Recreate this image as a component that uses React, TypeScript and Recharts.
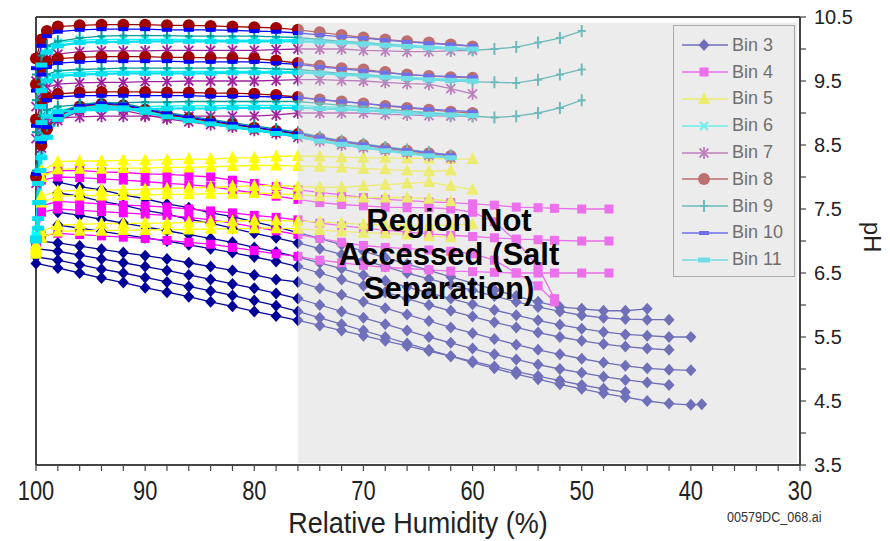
import React from "react";
import { LineChart, Line, XAxis, YAxis, ReferenceArea, ReferenceLine } from "recharts";

// x grids (relative humidity, %)
const rhBin3 = [100, 98, 96, 94, 92, 90, 88, 86, 84, 82, 80, 78, 76, 74, 72, 70, 68, 66, 64, 62, 60, 58, 56, 54, 52, 50, 48, 46, 44, 42, 40, 39];
const rhBin4 = [100, 99.5, 98, 96, 94, 92, 90, 88, 86, 84, 82, 80, 78, 76, 74, 72, 70, 68, 66, 64, 62, 60, 58, 56, 54, 52.5, 50, 47.5];
const rhBin5 = [100, 99.5, 98, 96, 94, 92, 90, 88, 86, 84, 82, 80, 78, 76, 74, 72, 70, 68, 66, 64, 62, 60];
const rhHigh = [100, 99.5, 99, 98, 96, 94, 92, 90, 88, 86, 84, 82, 80, 78, 76, 74, 72, 70, 68, 66, 64, 62, 60, 58, 56, 54, 52, 50];
const rhBin11 = [100, 99.8, 99.6, 99.5, 99, 98, 96, 94, 92, 90, 88, 86, 84, 82, 80, 78, 76, 74, 72, 70, 68, 66, 64, 62, 60];

// pH values, one array per curve (null = no point at that RH)
const bin3a = [null, 7.92, 7.85, 7.8, 7.72, 7.66, 7.58, 7.52, 7.44, 7.38, 7.3, 7.22, 7.13, 7.04, 6.94, 6.84, 6.74, 6.64, 6.54, 6.44, 6.34, 6.24, 6.14, 6.05, 5.97, 5.94, 5.91, 5.91, 5.94];
const bin3b = [null, 7.75, 7.7, 7.62, 7.56, 7.48, 7.42, 7.34, 7.28, 7.2, 7.12, 7.05, 6.97, 6.88, 6.79, 6.7, 6.6, 6.5, 6.41, 6.32, 6.23, 6.14, 6.05, 5.97, 5.9, 5.84, 5.8, 5.78, 5.77, 5.77];
const bin3c = [null, 7.45, 7.4, 7.34, 7.28, 7.22, 7.16, 7.1, 7.04, 6.98, 6.9, 6.83, 6.75, 6.66, 6.57, 6.47, 6.38, 6.28, 6.19, 6.1, 6.01, 5.92, 5.84, 5.76, 5.69, 5.63, 5.58, 5.54, 5.52, 5.5, 5.5];
const bin3d = [null, 7.25, 7.2, 7.15, 7.1, 7.05, 7.0, 6.94, 6.88, 6.82, 6.75, 6.68, 6.6, 6.5, 6.4, 6.3, 6.2, 6.1, 6.0, 5.91, 5.82, 5.73, 5.65, 5.57, 5.5, 5.44, 5.39, 5.35, 5.32, 5.3];
const bin3e = [7.0, 6.97, 6.92, 6.87, 6.82, 6.77, 6.72, 6.66, 6.6, 6.54, 6.47, 6.4, 6.36, 6.26, 6.16, 6.05, 5.95, 5.85, 5.75, 5.65, 5.56, 5.47, 5.38, 5.3, 5.23, 5.16, 5.1, 5.05, 5.01, 4.99, 4.98];
const bin3f = [6.88, 6.84, 6.78, 6.72, 6.66, 6.6, 6.54, 6.47, 6.4, 6.33, 6.26, 6.18, 6.1, 6.0, 5.9, 5.8, 5.7, 5.6, 5.5, 5.41, 5.32, 5.23, 5.15, 5.07, 5.0, 4.94, 4.88, 4.83, 4.79, 4.75];
const bin3g = [6.75, 6.7, 6.63, 6.56, 6.5, 6.43, 6.36, 6.29, 6.22, 6.15, 6.07, 5.99, 5.9, 5.8, 5.7, 5.6, 5.5, 5.4, 5.3, 5.2, 5.1, 5.01, 4.92, 4.84, 4.76, 4.69, 4.62, 4.56, 4.5, 4.46, 4.44, 4.45];
const bin3h = [6.65, 6.58, 6.5, 6.42, 6.35, 6.27, 6.2, 6.13, 6.05, 5.98, 5.9, 5.83, 5.76, 5.68, 5.6, 5.52, 5.44, 5.36, 5.28, 5.2, 5.12, 5.04, 4.96, 4.89, 4.82, 4.75, 4.69, 4.64];

const bin4a = [7.0, 8.05, 8.1, 8.1, 8.08, 8.07, 8.05, 8.04, 8.02, 8.0, 7.95, 7.9, 7.85, 7.8, 7.76, 7.72, 7.68, 7.65, 7.63, 7.61, 7.6, 7.58, 7.56, 7.53, 7.52, 7.51, 7.5, 7.5];
const bin4b = [7.0, 7.55, 7.62, 7.6, 7.58, 7.56, 7.55, 7.53, 7.5, 7.47, 7.44, 7.4, 7.37, 7.33, 7.28, 7.24, 7.2, 7.17, 7.14, 7.11, 7.09, 7.07, 7.05, 7.03, 7.02, 7.01, 7.0, 7.0];
const bin4c = [6.95, 7.08, 7.12, 7.1, 7.08, 7.06, 7.04, 7.01, 6.98, 6.95, 6.9, 6.85, 6.8, 6.76, 6.7, 6.66, 6.62, 6.59, 6.57, 6.55, 6.53, 6.52, 6.51, 6.5, 6.5, 6.5, 6.5, 6.5];
const bin4d = [7.0, 7.95, 8.0, 7.99, 7.97, 7.95, 7.93, 7.9, 7.88, 7.85, 7.8, 7.75, 7.7, 7.65, 7.6, 7.57, 7.55, 7.53, 7.52, 7.52, 7.5, 7.45, 7.3, 7.0, 6.6, 6.1];
const bin4e = [6.95, 7.45, 7.5, 7.48, 7.46, 7.44, 7.42, 7.4, 7.37, 7.33, 7.28, 7.22, 7.16, 7.1, 7.04, 6.98, 6.93, 6.9, 6.88, 6.86, 6.84, 6.8, 6.7, 6.5, 6.3, 6.05];

const bin5a = [6.95, 8.1, 8.24, 8.25, 8.25, 8.26, 8.26, 8.27, 8.28, 8.28, 8.3, 8.3, 8.32, 8.33, 8.32, 8.31, 8.3, 8.3, 8.29, 8.29, 8.28, 8.28];
const bin5b = [6.9, 8.0, 8.12, 8.13, 8.13, 8.14, 8.14, 8.15, 8.15, 8.16, 8.17, 8.18, 8.18, 8.17, 8.16, 8.15, 8.13, 8.12, 8.1, 8.09, 8.1];
const bin5c = [6.9, 7.7, 7.78, 7.79, 7.8, 7.8, 7.81, 7.82, 7.83, 7.84, 7.85, 7.86, 7.87, 7.85, 7.84, 7.84, 7.86, 7.88, 7.9, 7.92, 7.86, 7.8];
const bin5d = [6.88, 7.6, 7.7, 7.71, 7.71, 7.72, 7.72, 7.73, 7.73, 7.74, 7.74, 7.75, 7.74, 7.72, 7.7, 7.69, 7.68, 7.68, 7.68, 7.66, 7.62];
const bin5e = [6.85, 7.15, 7.25, 7.26, 7.27, 7.27, 7.28, 7.28, 7.29, 7.3, 7.31, 7.32, 7.32, 7.31, 7.3, 7.28, 7.26, 7.25, 7.24, 7.24, 7.25, 7.26];
const bin5f = [6.8, 7.05, 7.15, 7.16, 7.16, 7.17, 7.17, 7.18, 7.18, 7.19, 7.19, 7.2, 7.2, 7.19, 7.17, 7.15, 7.13, 7.12, 7.1, 7.08, 7.06];

const bin6a = [7.1, 9.8, 10.0, 10.1, 10.14, 10.15, 10.15, 10.15, 10.15, 10.15, 10.14, 10.14, 10.14, 10.14, 10.15, 10.14, 10.12, 10.1, 10.08, 10.06, 10.04, 10.02, 10.0];
const bin6b = [7.08, 9.4, 9.55, 9.62, 9.64, 9.65, 9.65, 9.65, 9.65, 9.65, 9.65, 9.65, 9.65, 9.65, 9.65, 9.63, 9.62, 9.6, 9.58, 9.56, 9.54, 9.53, 9.52];
const bin6c = [7.06, 8.9, 9.0, 9.05, 9.08, 9.1, 9.1, 9.1, 9.11, 9.11, 9.11, 9.12, 9.12, 9.12, 9.12, 9.1, 9.09, 9.08, 9.05, 9.03, 9.01, 8.99, 8.98];
const bin6d = [7.05, 8.4, 8.7, 8.93, 9.08, 9.12, 9.1, 9.03, 8.96, 8.9, 8.85, 8.8, 8.75, 8.7, 8.65, 8.58, 8.53, 8.48, 8.43, 8.39, 8.35, 8.31];

const bin7a = [9.5, 9.75, 9.85, 9.92, 9.96, 9.97, 9.97, 9.97, 9.98, 9.98, 9.98, 9.98, 9.98, 9.99, 10.0, 10.0, 10.0, 9.98, 9.97, 9.96, 9.96, 9.97, 9.98];
const bin7b = [9.1, 9.3, 9.4, 9.45, 9.47, 9.48, 9.48, 9.49, 9.49, 9.5, 9.5, 9.5, 9.5, 9.51, 9.52, 9.52, 9.51, 9.5, 9.48, 9.46, 9.45, 9.38, 9.3];
const bin7c = [8.6, 8.8, 8.88, 8.92, 8.94, 8.95, 8.95, 8.95, 8.95, 8.95, 8.95, 8.95, 8.95, 8.97, 9.0, 9.0, 9.0, 9.0, 8.98, 8.97, 8.96, 8.95, 8.95];
const bin7d = [7.9, 8.45, 8.68, 8.88, 9.03, 9.07, 9.04, 8.97, 8.91, 8.86, 8.82, 8.78, 8.73, 8.68, 8.62, 8.56, 8.5, 8.46, 8.42, 8.38, 8.34, 8.3];

const bin8a = [9.85, 10.15, 10.28, 10.35, 10.37, 10.38, 10.38, 10.38, 10.37, 10.37, 10.36, 10.35, 10.34, 10.33, 10.3, 10.26, 10.22, 10.18, 10.15, 10.12, 10.1, 10.07, 10.04];
const bin8b = [9.45, 9.7, 9.8, 9.85, 9.87, 9.88, 9.88, 9.88, 9.87, 9.87, 9.86, 9.86, 9.85, 9.82, 9.78, 9.74, 9.7, 9.68, 9.64, 9.6, 9.58, 9.56, 9.55];
const bin8c = [8.9, 9.15, 9.25, 9.3, 9.32, 9.33, 9.33, 9.33, 9.32, 9.32, 9.31, 9.31, 9.3, 9.28, 9.25, 9.21, 9.18, 9.15, 9.11, 9.08, 9.05, 9.02, 9.0];
const bin8d = [8.0, 8.5, 8.75, 8.95, 9.1, 9.14, 9.12, 9.05, 8.98, 8.92, 8.87, 8.82, 8.77, 8.72, 8.67, 8.6, 8.55, 8.5, 8.45, 8.41, 8.37, 8.33];

const bin9a = [9.6, 9.9, 10.05, 10.12, 10.17, 10.2, 10.21, 10.21, 10.21, 10.2, 10.2, 10.2, 10.2, 10.19, 10.18, 10.15, 10.12, 10.1, 10.07, 10.04, 10.02, 10.0, 9.98, 10.0, 10.03, 10.1, 10.17, 10.28];
const bin9b = [9.2, 9.45, 9.6, 9.66, 9.68, 9.69, 9.7, 9.7, 9.7, 9.7, 9.7, 9.7, 9.7, 9.69, 9.68, 9.65, 9.62, 9.6, 9.57, 9.54, 9.52, 9.5, 9.49, 9.48, 9.47, 9.52, 9.6, 9.68];
const bin9c = [8.7, 8.95, 9.05, 9.1, 9.13, 9.15, 9.16, 9.17, 9.17, 9.18, 9.18, 9.18, 9.18, 9.18, 9.18, 9.15, 9.12, 9.1, 9.06, 9.03, 9.0, 8.97, 8.95, 8.93, 8.95, 9.0, 9.08, 9.2];
const bin9d = [8.1, 8.6, 8.8, 9.0, 9.13, 9.17, 9.15, 9.08, 9.01, 8.95, 8.9, 8.85, 8.8, 8.75, 8.7, 8.63, 8.57, 8.52, 8.47, 8.43, 8.39, 8.34];

const bin10a = [9.7, 10.05, 10.2, 10.27, 10.3, 10.31, 10.31, 10.31, 10.3, 10.3, 10.3, 10.29, 10.28, 10.27, 10.25, 10.22, 10.19, 10.17, 10.14, 10.11, 10.09, 10.07, 10.05];
const bin10b = [9.35, 9.6, 9.72, 9.78, 9.8, 9.81, 9.81, 9.81, 9.81, 9.8, 9.8, 9.8, 9.8, 9.78, 9.76, 9.72, 9.69, 9.66, 9.63, 9.6, 9.58, 9.57, 9.56];
const bin10c = [8.8, 9.1, 9.2, 9.25, 9.27, 9.27, 9.27, 9.27, 9.27, 9.27, 9.26, 9.26, 9.26, 9.25, 9.24, 9.21, 9.18, 9.15, 9.12, 9.09, 9.06, 9.04, 9.02];
const bin10d = [8.05, 8.55, 8.78, 8.97, 9.11, 9.15, 9.13, 9.06, 8.99, 8.93, 8.88, 8.83, 8.78, 8.73, 8.68, 8.62, 8.56, 8.51, 8.46, 8.42, 8.38, 8.34];

const bin11a = [7.05, 7.9, 9.1, 9.75, 9.95, 10.05, 10.1, 10.11, 10.11, 10.12, 10.12, 10.12, 10.12, 10.12, 10.12, 10.12, 10.12, 10.11, 10.1, 10.08, 10.06, 10.04, 10.02, 10.01, 10.0];
const bin11b = [7.03, 7.6, 8.6, 9.35, 9.5, 9.58, 9.6, 9.61, 9.62, 9.62, 9.62, 9.62, 9.62, 9.63, 9.63, 9.63, 9.63, 9.62, 9.6, 9.58, 9.56, 9.54, 9.52, 9.51, 9.5];
const bin11c = [7.0, 7.35, 8.1, 8.85, 8.95, 9.02, 9.04, 9.05, 9.06, 9.06, 9.07, 9.07, 9.07, 9.08, 9.08, 9.08, 9.08, 9.07, 9.06, 9.04, 9.02, 9.0, 8.98, 8.97, 8.96];
const bin11d = [7.02, 7.2, 7.6, 8.3, 8.62, 8.9, 9.06, 9.1, 9.08, 9.01, 8.94, 8.88, 8.83, 8.78, 8.73, 8.68, 8.63, 8.56, 8.51, 8.46, 8.41, 8.37, 8.33, 8.3];

const xTicks = [100, 98, 96, 94, 92, 90, 88, 86, 84, 82, 80, 78, 76, 74, 72, 70, 68, 66, 64, 62, 60, 58, 56, 54, 52, 50, 48, 46, 44, 42, 40, 38, 36, 34, 32, 30];
const yTicks = [3.5, 4, 4.5, 5, 5.5, 6, 6.5, 7, 7.5, 8, 8.5, 9, 9.5, 10, 10.5];

const FONT = "'Liberation Sans', Arial, Helvetica, sans-serif";

type Shape = "diamond" | "square" | "triangle" | "x" | "asterisk" | "circle" | "plus" | "dash" | "bar";

const BINS: { name: string; color: string; shape: Shape; width: number; rh: number[]; curves: (number | null)[][] }[] = [
  { name: "Bin 3", color: "#000099", shape: "diamond", width: 1.3, rh: rhBin3, curves: [bin3a, bin3b, bin3c, bin3d, bin3e, bin3f, bin3g, bin3h] },
  { name: "Bin 4", color: "#ff00ff", shape: "square", width: 1.3, rh: rhBin4, curves: [bin4a, bin4b, bin4c, bin4d, bin4e] },
  { name: "Bin 5", color: "#ffff00", shape: "triangle", width: 1.3, rh: rhBin5, curves: [bin5a, bin5b, bin5c, bin5d, bin5e, bin5f] },
  { name: "Bin 6", color: "#00ffff", shape: "x", width: 1.3, rh: rhHigh, curves: [bin6a, bin6b, bin6c, bin6d] },
  { name: "Bin 7", color: "#a020a0", shape: "asterisk", width: 1.3, rh: rhHigh, curves: [bin7a, bin7b, bin7c, bin7d] },
  { name: "Bin 8", color: "#a00000", shape: "circle", width: 1.3, rh: rhHigh, curves: [bin8a, bin8b, bin8c, bin8d] },
  { name: "Bin 9", color: "#009999", shape: "plus", width: 1.3, rh: rhHigh, curves: [bin9a, bin9b, bin9c, bin9d] },
  { name: "Bin 10", color: "#0000ff", shape: "dash", width: 1.3, rh: rhHigh, curves: [bin10a, bin10b, bin10c, bin10d] },
  { name: "Bin 11", color: "#00e0f0", shape: "bar", width: 2.2, rh: rhBin11, curves: [bin11a, bin11b, bin11c, bin11d] },
];

function toPoints(rh: number[], ph: (number | null)[]) {
  const pts: { rh: number; ph: number }[] = [];
  ph.forEach((v, i) => {
    if (v != null) pts.push({ rh: rh[i], ph: v });
  });
  return pts;
}

// wash a colour the way the grey "not accessed" overlay does
function wash(hex: string) {
  const n = parseInt(hex.slice(1), 16);
  const ch = [(n >> 16) & 255, (n >> 8) & 255, n & 255].map((c) => Math.round(c * 0.49 + 218 * 0.51));
  return `rgb(${ch[0]},${ch[1]},${ch[2]})`;
}

function Marker({ shape, cx, cy, color }: { shape: Shape; cx: number; cy: number; color: string }) {
  switch (shape) {
    case "diamond":
      return <polygon points={`${cx},${cy - 6} ${cx + 5.5},${cy} ${cx},${cy + 6} ${cx - 5.5},${cy}`} fill={color} />;
    case "square":
      return <rect x={cx - 4.5} y={cy - 4.5} width={9} height={9} fill={color} />;
    case "triangle":
      return <polygon points={`${cx},${cy - 7} ${cx + 6},${cy + 5} ${cx - 6},${cy + 5}`} fill={color} />;
    case "x":
      return <path d={`M${cx - 4},${cy - 4}L${cx + 4},${cy + 4}M${cx + 4},${cy - 4}L${cx - 4},${cy + 4}`} stroke={color} strokeWidth={2} />;
    case "asterisk":
      return (
        <path
          d={`M${cx - 4.5},${cy - 4.5}L${cx + 4.5},${cy + 4.5}M${cx + 4.5},${cy - 4.5}L${cx - 4.5},${cy + 4.5}M${cx},${cy - 6}L${cx},${cy + 6}`}
          stroke={color}
          strokeWidth={1.8}
        />
      );
    case "circle":
      return <circle cx={cx} cy={cy} r={6} fill={color} />;
    case "plus":
      return <path d={`M${cx},${cy - 6}L${cx},${cy + 6}M${cx - 4},${cy}L${cx + 4},${cy}`} stroke={color} strokeWidth={2} />;
    case "dash":
      return <rect x={cx - 5} y={cy - 2} width={10} height={4} fill={color} />;
    case "bar":
      return <rect x={cx - 6} y={cy - 2.5} width={12} height={5} fill={color} />;
  }
  return null;
}

const dotFor = (shape: Shape, color: string) => (p: any) => {
  if (p.cx == null || p.cy == null) return <g key={`e${p.index}`} />;
  return (
    <g key={`d${p.index}`}>
      <Marker shape={shape} cx={p.cx} cy={p.cy} color={color} />
    </g>
  );
};

// condensed tick labels, like the narrow face used in the original
function XTick(props: any) {
  const { x, y, payload } = props;
  const v = payload.value;
  if (v % 10 !== 0) return <g />;
  return (
    <g transform={`translate(${x},${y})`}>
      <text x={0} y={0} dy="0.71em" textAnchor="middle" transform="scale(0.78,1)" fill="#222" fontSize={28} fontFamily={FONT}>
        {v}
      </text>
    </g>
  );
}

function XTitle(props: any) {
  const vb = props.viewBox;
  return (
    <g transform={`translate(${vb.x + vb.width / 2},${vb.y + vb.height - 8})`}>
      <text x={0} y={0} textAnchor="middle" transform="scale(0.9,1)" fill="#222" fontSize={30} fontFamily={FONT}>
        Relative Humidity (%)
      </text>
    </g>
  );
}

function LegendBox() {
  return (
    <div
      style={{
        position: "absolute",
        left: 673,
        top: 25,
        width: 122,
        height: 252,
        border: "1.5px solid #aaa",
        background: "#ececec",
        boxSizing: "border-box",
        paddingTop: 6,
      }}
    >
      {BINS.map((b) => (
        <div key={b.name} style={{ height: 26.8, display: "flex", alignItems: "center" }}>
          <svg width={50} height={20} style={{ marginLeft: 6 }}>
            <line x1={2} y1={10} x2={48} y2={10} stroke={wash(b.color)} strokeWidth={1.5} />
            <Marker shape={b.shape} cx={24} cy={10} color={wash(b.color)} />
          </svg>
          <span style={{ fontFamily: FONT, fontSize: 18, color: "#707070", marginLeft: 2 }}>{b.name}</span>
        </div>
      ))}
    </div>
  );
}

export default function App() {
  return (
    <div style={{ position: "absolute", left: 0, top: 0, width: 890, height: 541, background: "#fff" }}>
      <LineChart width={890} height={541} margin={{ top: 17, right: 30, bottom: 0, left: 36 }}>
        <XAxis
          dataKey="rh"
          type="number"
          domain={[30, 100]}
          reversed
          ticks={xTicks}
          interval={0}
          tick={<XTick />}
          tickSize={6}
          tickMargin={9}
          height={76}
          stroke="#444"
          axisLine={{ stroke: "#444", strokeWidth: 2 }}
          tickLine={{ stroke: "#444", strokeWidth: 1.2 }}
          label={{ content: <XTitle /> }}
        />
        <YAxis
          orientation="right"
          type="number"
          domain={[3.5, 10.5]}
          ticks={yTicks}
          interval={0}
          tickFormatter={(v) => (Math.round(v * 2) % 2 === 1 ? v.toFixed(1) : "")}
          tick={{ fill: "#222", fontSize: 20, fontFamily: FONT }}
          tickSize={6}
          tickMargin={8}
          width={60}
          stroke="#444"
          axisLine={{ stroke: "#444", strokeWidth: 2 }}
          tickLine={{ stroke: "#444", strokeWidth: 1.2 }}
        />
        <ReferenceLine y={10.5} stroke="#444" strokeWidth={2} />
        <ReferenceLine x={100} stroke="#444" strokeWidth={2} />
        {BINS.map((b) =>
          b.curves.map((c, i) => (
            <Line
              key={`${b.name}-${i}`}
              data={toPoints(b.rh, c)}
              dataKey="ph"
              type="linear"
              stroke={b.color}
              strokeWidth={b.width}
              dot={dotFor(b.shape, b.color)}
              activeDot={false}
              legendType="none"
              isAnimationActive={false}
            />
          ))
        )}
        <ReferenceArea x1={76} x2={30.27} y1={3.53} y2={10.41} fill="#dadada" fillOpacity={0.51} stroke="none" zIndex={1000} />
      </LineChart>

      <LegendBox />

      <div
        style={{
          position: "absolute",
          left: 299,
          top: 204,
          width: 300,
          textAlign: "center",
          fontFamily: FONT,
          fontWeight: "bold",
          fontSize: 31,
          lineHeight: "34px",
          color: "#000",
        }}
      >
        Region Not
        <br />
        Accessed (Salt
        <br />
        Separation)
      </div>

      <div
        style={{
          position: "absolute",
          left: 852,
          top: 222,
          width: 40,
          height: 30,
          lineHeight: "30px",
          textAlign: "center",
          transform: "rotate(90deg)",
          fontFamily: FONT,
          fontSize: 24,
          color: "#222",
        }}
      >
        pH
      </div>

      <div
        style={{
          position: "absolute",
          left: 727,
          top: 509,
          fontFamily: FONT,
          fontSize: 14,
          color: "#333",
          transform: "scaleX(0.9)",
          transformOrigin: "left top",
        }}
      >
        00579DC_068.ai
      </div>
    </div>
  );
}
